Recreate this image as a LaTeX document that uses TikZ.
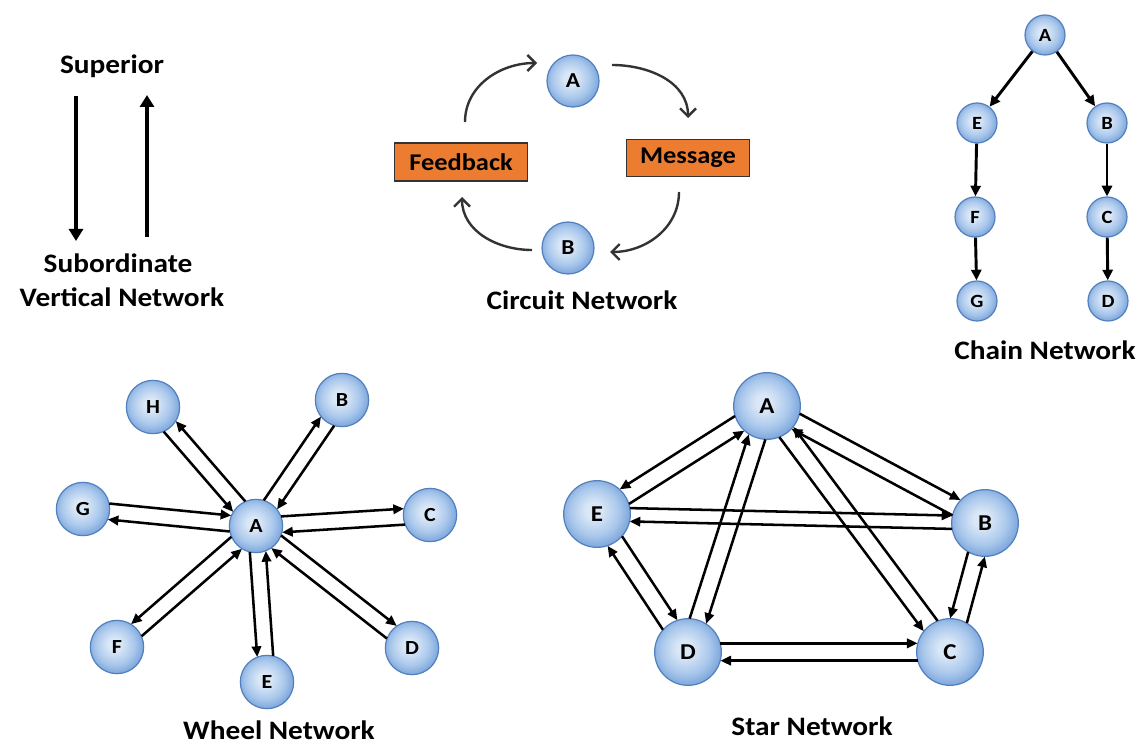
\documentclass[tikz,border=0pt]{standalone}
\usepackage{fontspec}
\setmainfont{Carlito}[FakeStretch=1.1]
\usetikzlibrary{arrows.meta,calc}
\definecolor{ballhi}{HTML}{DAE7F6}
\definecolor{ballmid}{HTML}{AAC8EC}
\definecolor{balllo}{HTML}{7FA8DC}
\definecolor{ballrim}{HTML}{5280BE}
\definecolor{boxfill}{HTML}{EC7C30}
\pgfdeclareradialshading{bubble}{\pgfpoint{-3bp}{3bp}}{color(0bp)=(ballhi); color(6bp)=(ballhi); color(18bp)=(ballmid); color(26bp)=(balllo); color(50bp)=(balllo)}
\tikzset{
  ball/.style={circle, draw=ballrim, line width=0.9pt, shading=bubble, inner sep=0pt},
  chball/.style={ball, minimum size=30pt, font=\bfseries\fontsize{14}{14}\selectfont},
  crball/.style={ball, minimum size=39pt, font=\bfseries\fontsize{16}{16}\selectfont},
  whball/.style={ball, minimum size=40pt, font=\bfseries\fontsize{15}{15}\selectfont},
  stball/.style={ball, minimum size=50pt, font=\bfseries\fontsize{17}{17}\selectfont},
  lbl/.style={font=\bfseries\fontsize{20}{20}\selectfont, inner sep=0pt},
  obox/.style={draw=black!80, line width=0.8pt, fill=boxfill, inner sep=0pt, minimum height=28.5pt, font=\bfseries\fontsize{18}{18}\selectfont},
  varr/.style={line width=2.4pt, -{Triangle[length=9pt,width=10.5pt]}},
  carr/.style={line width=1.8pt, draw=black!80, -{Straight Barb[length=6pt,width=12pt]}},
  chainarr/.style={line width=2.2pt, -{Triangle[length=8pt,width=7.5pt]}},
  narr/.style={line width=1.9pt, -{Triangle[length=8pt,width=7pt]}}
}
\newcommand\duo[6]{%
  \draw[narr, shorten <=#4, shorten >=#4] ($(#1)!#3!#5:(#2)$) -- ($(#2)!#3!#6:(#1)$);
  \draw[narr, shorten <=#4, shorten >=#4] ($(#2)!#3!#5:(#1)$) -- ($(#1)!#3!#6:(#2)$);}
\begin{document}
\begin{tikzpicture}[x=0.75pt,y=-0.75pt]
\useasboundingbox[fill=white] (0,0) rectangle (1138,745);

% ---- Vertical network
\node[lbl] (sup) at (112,66) {Superior};
\node[lbl] (sub) at (118,263) {Subordinate};
\node[lbl] (vtitle) at (122,297) {Vertical Network};
\coordinate (v1s) at (76,96);
\coordinate (v1e) at (76,241);
\coordinate (v2s) at (147,237);
\coordinate (v2e) at (147,95);
\draw[varr] (v1s) -- (v1e);
\draw[varr] (v2s) -- (v2e);

% ---- Circuit network
\node[crball] (cA) at (573,81) {A};
\node[crball] (cB) at (568,248) {B};
\node[obox, minimum width=100pt] (fb) at (461,162) {Feedback};
\node[obox, minimum width=92pt, minimum height=27.5pt] (msg) at (688,158) {Message};
\node[lbl] (ctitle) at (582,300) {Circuit Network};
\coordinate (k1s) at (465,122);
\coordinate (k1e) at (537,63);
\coordinate (k2s) at (612,65);
\coordinate (k2e) at (688,118);
\coordinate (k3s) at (679,192);
\coordinate (k3e) at (610,252);
\coordinate (k4s) at (532,250);
\coordinate (k4e) at (462,197);
\draw[carr] (k1s) to[out=90,in=180] (k1e);
\draw[carr] (k2s) to[out=0,in=90] (k2e);
\draw[carr] (k3s) to[out=-90,in=0] (k3e);
\draw[carr] (k4s) to[out=180,in=-90] (k4e);

% ---- Chain network
\node[chball] (hA) at (1045,35) {A};
\node[chball] (hE) at (977,123) {E};
\node[chball] (hB) at (1107,123) {B};
\node[chball] (hF) at (975,217) {F};
\node[chball] (hC) at (1107,217) {C};
\node[chball] (hG) at (977,301) {G};
\node[chball] (hD) at (1108,301) {D};
\node[lbl] (htitle) at (1045,350) {Chain Network};
\draw[chainarr] (hA) -- (hE);
\draw[chainarr] (hA) -- (hB);
\draw[chainarr] (hE) -- (hF);
\draw[chainarr] (hB) -- (hC);
\draw[chainarr] (hF) -- (hG);
\draw[chainarr] (hC) -- (hD);

% ---- Wheel network
\node[whball] (wA) at (256,526) {A};
\node[whball] (wH) at (153,407) {H};
\node[whball] (wB) at (342,400) {B};
\node[whball] (wG) at (83,509) {G};
\node[whball] (wC) at (430,515) {C};
\node[whball] (wF) at (117,647) {F};
\node[whball] (wE) at (267,682) {E};
\node[whball] (wD) at (412,648) {D};
\node[lbl] (wtitle) at (279,730) {Wheel Network};
\duo{wH}{wA}{6pt}{19.2pt}{-90}{90}
\duo{wA}{wB}{6pt}{19.2pt}{90}{-90}
\duo{wA}{wG}{6pt}{19.2pt}{90}{-90}
\duo{wA}{wC}{6pt}{19.2pt}{90}{-90}
\duo{wA}{wF}{6pt}{19.2pt}{-90}{90}
\duo{wA}{wE}{6pt}{19.2pt}{-90}{90}
\duo{wA}{wD}{6pt}{19.2pt}{90}{-90}

% ---- Star network
\node[stball] (sA) at (767,406) {A};
\node[stball] (sE) at (597,514) {E};
\node[stball] (sB) at (985,523) {B};
\node[stball] (sD) at (688,652) {D};
\node[stball] (sC) at (950,652) {C};
\node[lbl] (stitle) at (812,726) {Star Network};
\duo{sA}{sE}{6.5pt}{24.3pt}{-90}{90}
\duo{sA}{sB}{6.5pt}{24.3pt}{90}{-90}
\duo{sA}{sD}{6.5pt}{24.3pt}{90}{-90}
\duo{sA}{sC}{6.5pt}{24.3pt}{-90}{90}
\duo{sE}{sB}{5pt}{24.6pt}{90}{-90}
\duo{sE}{sD}{6.5pt}{24.3pt}{90}{-90}
\duo{sB}{sC}{6.5pt}{24.3pt}{-90}{90}
\duo{sD}{sC}{6.5pt}{24.3pt}{90}{-90}
\end{tikzpicture}
\end{document}
